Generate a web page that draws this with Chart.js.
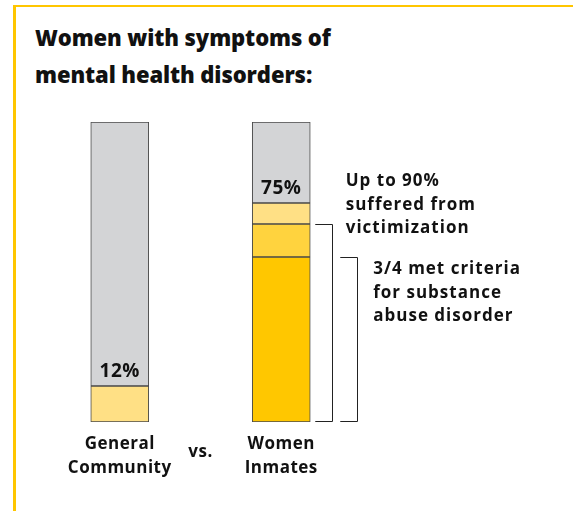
<!DOCTYPE html>
<html>
<head>
<meta charset="utf-8">
<script src="https://cdn.jsdelivr.net/npm/chart.js@4"></script>
<style>
  html, body { margin: 0; padding: 0; background: #fff; }
  #wrap { position: relative; width: 573px; height: 511px; overflow: hidden; }
  #frame { position: absolute; left: 13px; top: 5px; right: -5px; bottom: -5px;
           border-top: 2px solid #FFC600; border-left: 3px solid #FFC600; }
  h1 { position: absolute; left: 35px; top: 19px; margin: 0;
       font: 800 22px/37px "Open Sans", sans-serif; color: #111; letter-spacing: -0.1px; }
  canvas { position: absolute; left: 0; top: 0; }
</style>
</head>
<body>
<div id="wrap">
  <div id="frame"></div>
  <h1>Women with symptoms of<br>mental health disorders:</h1>
  <canvas id="chart" width="573" height="511"></canvas>
</div>
<script>
const categories = [['General', 'Community'], ['Women', 'Inmates']];
const substanceAbuse = [0, 55];
const victimization = [0, 11];
const symptoms = [12, 7];
const remainder = [88, 27];
const valueLabels = ['12%', '75%'];
const separatorLabel = 'vs.';

const notes = [
    { lines: ['Up to 90%', 'suffered from', 'victimization'], from: 66 },
    { lines: ['3/4 met criteria', 'for substance', 'abuse disorder'], from: 55 }
];

const colors = {
    substance: '#FFC700',
    victim: '#FFD33E',
    symptoms: '#FFE085',
    rest: '#D3D4D6',
    outline: '#4a4a4a',
    text: '#111111'
};

const FONT = '"Open Sans", sans-serif';

// the original lettering is wide, so space the canvas text out a little
const spacing = {
    id: 'spacing',
    beforeDraw(chart) {
        chart.ctx.letterSpacing = '0.5px';
    }
};

const annotations = {
    id: 'annotations',
    afterDatasetsDraw(chart) {
        const ctx = chart.ctx;
        const x = chart.scales.x;
        const y = chart.scales.y;
        ctx.save();
        ctx.fillStyle = colors.text;
        ctx.letterSpacing = '0.5px';

        // percentage labels sit just above the coloured part of each bar
        ctx.font = '700 19px ' + FONT;
        ctx.textAlign = 'center';
        ctx.textBaseline = 'alphabetic';
        valueLabels.forEach((label, i) => {
            const top = substanceAbuse[i] + victimization[i] + symptoms[i];
            ctx.fillText(label, x.getPixelForValue(i), y.getPixelForValue(top) - 9);
        });

        // "vs." between the two category labels
        ctx.font = '700 17px ' + FONT;
        const mid = (x.getPixelForValue(0) + x.getPixelForValue(1)) / 2;
        ctx.fillText(separatorLabel, mid, chart.chartArea.bottom + 35);

        // brackets beside the second bar
        const barRight = x.getPixelForValue(1) + 29;
        ctx.strokeStyle = '#222';
        ctx.lineWidth = 1;
        ctx.textAlign = 'left';
        ctx.letterSpacing = '1px';
        notes.forEach((note, i) => {
            const x1 = barRight + 5 + i * 25;
            const x2 = x1 + 16.5;
            const yTop = Math.round(y.getPixelForValue(note.from)) + 0.5;
            const yBot = Math.round(y.getPixelForValue(0)) - 0.5;
            ctx.beginPath();
            ctx.moveTo(x1, yTop);
            ctx.lineTo(Math.round(x2) + 0.5, yTop);
            ctx.lineTo(Math.round(x2) + 0.5, yBot);
            ctx.lineTo(x1, yBot);
            ctx.stroke();

            ctx.font = '700 17px ' + FONT;
            const tx = i === 0 ? x2 + 14 : x2 + 16.5;
            const ty = i === 0 ? yTop - 38.5 : yTop + 16.5;
            note.lines.forEach((line, j) => {
                ctx.fillText(line, tx, ty + j * 23.7);
            });
        });
        ctx.restore();
    }
};

const segment = (label, data, color) => ({
    label: label,
    data: data,
    backgroundColor: color,
    borderColor: colors.outline,
    borderWidth: 1,
    borderSkipped: false,
    barThickness: 58
});

new Chart(document.getElementById('chart'), {
    type: 'bar',
    data: {
        labels: categories,
        datasets: [
            segment('Substance abuse disorder', substanceAbuse, colors.substance),
            segment('Victimization', victimization, colors.victim),
            segment('Mental health symptoms', symptoms, colors.symptoms),
            segment('Other', remainder, colors.rest)
        ]
    },
    options: {
        responsive: false,
        animation: false,
        layout: {
            padding: { left: 39, right: 211, top: 122, bottom: 0 }
        },
        plugins: {
            legend: { display: false },
            tooltip: { enabled: false }
        },
        scales: {
            x: {
                stacked: true,
                grid: { display: false, drawTicks: false },
                border: { display: false },
                ticks: {
                    padding: 10,
                    color: colors.text,
                    font: { family: FONT, size: 17, weight: '700', lineHeight: 1.4 }
                },
                afterFit(scale) { scale.height = 89; }
            },
            y: {
                stacked: true,
                display: false,
                min: 0,
                max: 100
            }
        }
    },
    plugins: [spacing, annotations]
});
</script>
</body>
</html>
